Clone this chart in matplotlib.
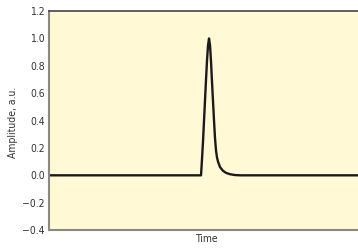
import matplotlib
matplotlib.use('Agg')
import matplotlib.pyplot as plt

plt.rcParams['font.family'] = ['DejaVu Sans']
plt.rcParams['font.stretch'] = 'condensed'

# pulse (time in arbitrary units)
time = [0, 152, 153, 154, 155, 156, 157, 158, 159, 160, 161, 162, 163, 164, 165,
        166, 167, 168, 169, 171, 174, 177, 181, 186, 192, 309]
amplitude = [0, 0, 0.12, 0.25, 0.40, 0.55, 0.70, 0.84, 0.95, 1.0, 0.95, 0.83, 0.68,
             0.54, 0.40, 0.27, 0.18, 0.13, 0.10, 0.06, 0.033, 0.018, 0.008, 0.002, 0, 0]
yticks = [-0.4, -0.2, 0.0, 0.2, 0.4, 0.6, 0.8, 1.0, 1.2]
ytick_labels = ['\u22120.4', '\u22120.2', '0.0', '0.2', '0.4', '0.6', '0.8', '1.0', '1.2']

fig = plt.figure(figsize=(3.58, 2.52), dpi=100)
ax = fig.add_axes([0.137, 0.087, 0.863, 0.869])
ax.set_facecolor('#fff9d6')

ax.plot(time, amplitude, color='#1a1a1a', lw=1.7, solid_joinstyle='round')

ax.set_xlim(0, 309)
ax.set_ylim(-0.4, 1.2)
ax.set_xticks([])
ax.set_yticks(yticks)
ax.set_yticklabels(ytick_labels)
ax.tick_params(axis='y', length=0, pad=3, labelsize=7.5, labelcolor='#333333')

for side in ['left', 'bottom']:
    ax.spines[side].set_color('#8a8a80')
    ax.spines[side].set_linewidth(1.5)
ax.spines['top'].set_color('#444444')
ax.spines['top'].set_linewidth(1.2)
ax.spines['right'].set_visible(False)

ax.set_ylabel('Amplitude, a.u.', fontsize=7.5, color='#333333')
ax.yaxis.set_label_coords(-0.10, 0.49, transform=ax.transAxes)
ax.set_xlabel('Time', fontsize=7.5, color='#333333')
ax.xaxis.set_label_coords(0.51, -0.02, transform=ax.transAxes)
ax.xaxis.label.set_va('top')

plt.savefig('out.png', dpi=100)
